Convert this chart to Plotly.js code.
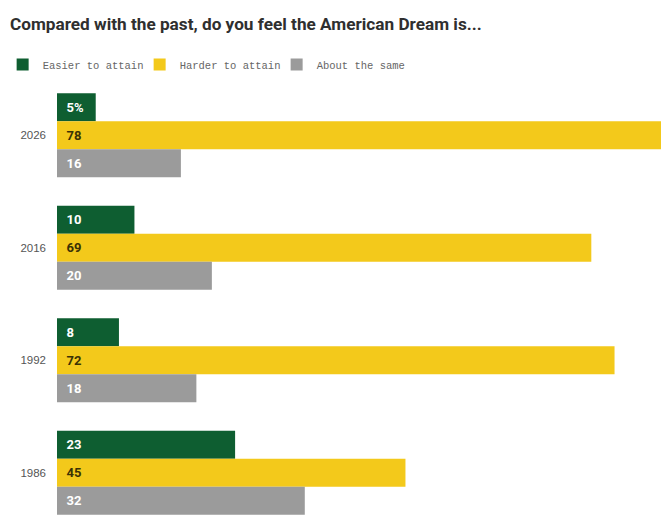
<!DOCTYPE html>
<html>
<head>
<meta charset="utf-8">
<script src="https://cdn.plot.ly/plotly-3.0.1.min.js"></script>
<style>
  html, body { margin: 0; padding: 0; background: #fff; }
  #chart { width: 667px; height: 523px; }
</style>
</head>
<body>
<div id="chart"></div>
<script>
var years = ['2026', '2016', '1992', '1986'];
var easier = [5, 10, 8, 23];
var harder = [78, 69, 72, 45];
var same = [16, 20, 18, 32];

var seriesNames = ['Easier to attain', 'Harder to attain', 'About the same'];
var seriesColors = ['#0e5e31', '#f3c91b', '#9b9b9b'];
var labelColors = ['#ffffff', '#3b3205', '#ffffff'];

var headFont = 'Roboto, Liberation Sans, sans-serif';

function makeLabels(vals, first) {
  // only the very first label carries the percent sign
  return vals.map(function (v, i) {
    return '\u00a0\u00a0' + v + (first && i === 0 ? '%' : '');
  });
}

function makeTrace(vals, k) {
  return {
    type: 'bar',
    orientation: 'h',
    x: vals,
    y: years,
    name: seriesNames[k],
    marker: { color: seriesColors[k], line: { width: 0 } },
    text: makeLabels(vals, k === 0),
    textposition: 'inside',
    insidetextanchor: 'start',
    textangle: 0,
    constraintext: 'none',
    textfont: { family: headFont, size: 13, color: labelColors[k], weight: 700 },
    hoverinfo: 'skip'
  };
}

var data = [makeTrace(easier, 0), makeTrace(harder, 1), makeTrace(same, 2)];

var layout = {
  width: 667,
  height: 523,
  paper_bgcolor: '#ffffff',
  plot_bgcolor: '#ffffff',
  margin: { l: 57, r: 6, t: 79, b: 3 },
  barmode: 'group',
  bargap: 0.253,
  bargroupgap: 0,
  title: {
    text: '<b>Compared with the past, do you feel the American Dream is...</b>',
    font: { family: headFont, size: 17.2, color: '#2f2f2f' },
    x: 0.015,
    xanchor: 'left',
    y: 0.955,
    yanchor: 'middle'
  },
  showlegend: true,
  legend: {
    orientation: 'h',
    x: -0.09,
    xanchor: 'left',
    y: 1.0,
    yanchor: 'bottom',
    font: { family: 'Liberation Mono, DejaVu Sans Mono, monospace', size: 10.5, color: '#666666' },
    itemwidth: 30,
    entrywidth: 92,
    entrywidthmode: 'pixels',
    traceorder: 'normal'
  },
  xaxis: {
    range: [0, 78],
    showgrid: false,
    zeroline: false,
    showticklabels: false,
    showline: false,
    fixedrange: true
  },
  yaxis: {
    type: 'category',
    categoryorder: 'array',
    categoryarray: years,
    range: [3.42, -0.5],
    showgrid: false,
    zeroline: false,
    showline: false,
    ticks: '',
    ticklabelstandoff: 10,
    tickfont: { family: 'Liberation Sans, Arial, sans-serif', size: 11.5, color: '#555555' },
    fixedrange: true
  }
};

Plotly.newPlot('chart', data, layout, { displayModeBar: false, staticPlot: true });
</script>
</body>
</html>
